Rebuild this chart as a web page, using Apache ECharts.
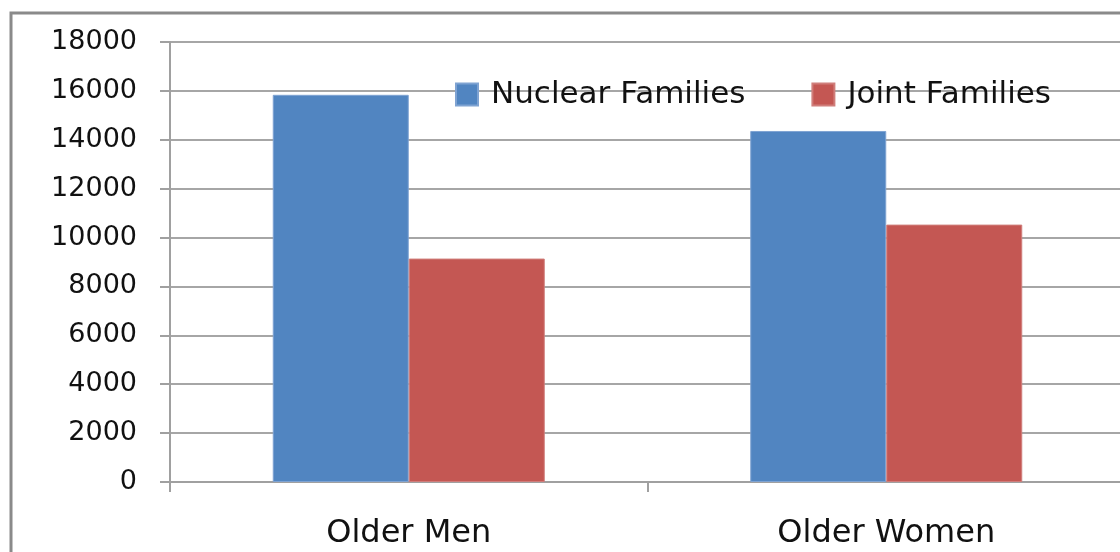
<!DOCTYPE html>
<html>
<head>
<meta charset="utf-8">
<script src="https://cdn.jsdelivr.net/npm/echarts@6/dist/echarts.min.js"></script>
<style>
html,body{margin:0;padding:0;background:#fff;}
#chart{width:1120px;height:552px;}
</style>
</head>
<body>
<div id="chart"></div>
<script>
const categories = ['Older Men', 'Older Women'];
const seriesNames = ['Nuclear Families', 'Joint Families'];
const nuclearValues = [15840, 14360];
const jointValues = [9140, 10530];
const yTicks = [0, 2000, 4000, 6000, 8000, 10000, 12000, 14000, 16000, 18000];

const chart = echarts.init(document.getElementById('chart'), null, {renderer: 'canvas'});
const font = 'DejaVu Sans';
chart.setOption({
  backgroundColor: '#ffffff',
  animation: false,
  graphic: [{
    type: 'rect',
    shape: {x: 11, y: 13, width: 1200, height: 600},
    style: {fill: 'none', stroke: '#8a8a8a', lineWidth: 3},
    z: 100
  }],
  legend: {
    left: 450,
    top: 74,
    itemWidth: 22,
    itemHeight: 22,
    itemGap: 66,
    icon: 'rect',
    textStyle: {fontFamily: font, fontSize: 31, color: '#111', padding: [0, 0, 0, 8]},
    data: seriesNames
  },
  grid: {left: 170, top: 42, width: 955, bottom: 70, containLabel: false, outerBoundsMode: 'none'},
  xAxis: {
    type: 'category',
    data: categories,
    axisLine: {show: true, lineStyle: {color: '#a0a0a0', width: 2}},
    axisTick: {show: true, length: 10, lineStyle: {color: '#a0a0a0', width: 2}},
    axisLabel: {fontFamily: font, fontSize: 32, color: '#111', margin: 36}
  },
  yAxis: {
    type: 'value',
    min: yTicks[0],
    max: yTicks[yTicks.length - 1],
    interval: 2000,
    axisLine: {show: true, lineStyle: {color: '#a0a0a0', width: 2}},
    axisTick: {show: true, length: 10, lineStyle: {color: '#a0a0a0', width: 2}},
    axisLabel: {fontFamily: font, fontSize: 27, color: '#111', margin: 33,
      formatter: function (v) { return String(v); }},
    splitLine: {show: true, lineStyle: {color: '#a6a6a6', width: 2}}
  },
  series: [
    {
      name: seriesNames[0], type: 'bar', data: nuclearValues,
      barWidth: 136, barGap: '0%',
      itemStyle: {color: '#5185C1', borderColor: '#7FA3D2', borderWidth: 1}
    },
    {
      name: seriesNames[1], type: 'bar', data: jointValues,
      barWidth: 136, barGap: '0%',
      itemStyle: {color: '#C45753', borderColor: '#D07E7B', borderWidth: 1}
    }
  ]
});
</script>
</body>
</html>
